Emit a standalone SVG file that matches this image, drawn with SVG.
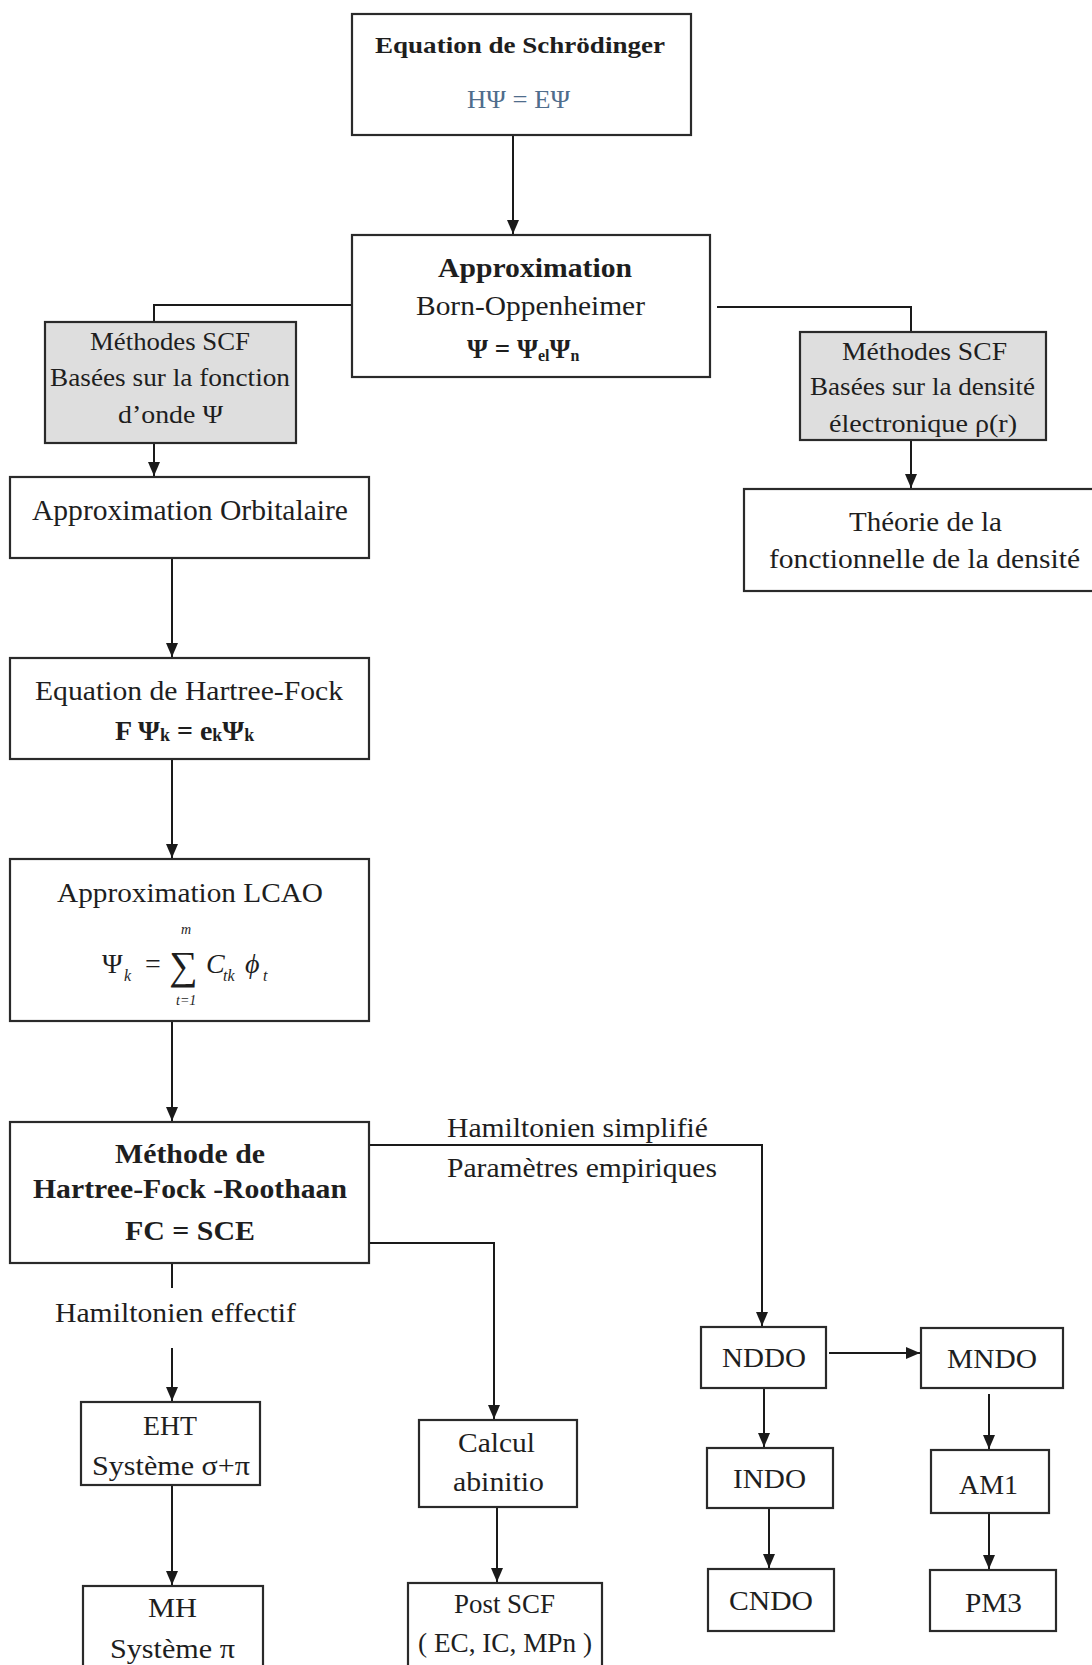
<svg xmlns="http://www.w3.org/2000/svg" width="1092" height="1665" viewBox="0 0 1092 1665" font-size="26">
<defs>
<marker id="ah" markerUnits="userSpaceOnUse" markerWidth="14" markerHeight="12" viewBox="0 0 14 12" refX="14" refY="6" orient="auto">
<path d="M0,0 L14,6 L0,12 Z" fill="#1a1a1a"/>
</marker>
</defs>
<style>
.box{fill:#ffffff;stroke:#2a2a2a;stroke-width:2.2}
.gray{fill:#dedede;stroke:#2a2a2a;stroke-width:2.2}
.c{fill:none;stroke:#1a1a1a;stroke-width:2}
text{font-family:"Liberation Serif","Times New Roman",serif;fill:#1e1e1e}
.b{font-weight:bold}
.it{font-style:italic}
</style>
<rect width="1092" height="1665" fill="#ffffff"/>

<g id="connectors">
<path class="c" d="M513,135 V234" marker-end="url(#ah)"/>
<path class="c" d="M352,305 H154 V322"/>
<path class="c" d="M717,307 H911 V332"/>
<path class="c" d="M911,440 V488" marker-end="url(#ah)"/>
<path class="c" d="M154,443 V476" marker-end="url(#ah)"/>
<path class="c" d="M172,558 V657" marker-end="url(#ah)"/>
<path class="c" d="M172,759 V858" marker-end="url(#ah)"/>
<path class="c" d="M172,1021 V1121" marker-end="url(#ah)"/>
<path class="c" d="M369,1145 H762 V1326" marker-end="url(#ah)"/>
<path class="c" d="M369,1243 H494 V1419" marker-end="url(#ah)"/>
<path class="c" d="M172,1263 V1288"/>
<path class="c" d="M172,1348 V1401" marker-end="url(#ah)"/>
<path class="c" d="M172,1485 V1585" marker-end="url(#ah)"/>
<path class="c" d="M497,1507 V1582" marker-end="url(#ah)"/>
<path class="c" d="M829,1353 H920" marker-end="url(#ah)"/>
<path class="c" d="M764,1388 V1447" marker-end="url(#ah)"/>
<path class="c" d="M769,1508 V1568" marker-end="url(#ah)"/>
<path class="c" d="M989,1394 V1449" marker-end="url(#ah)"/>
<path class="c" d="M989,1513 V1569" marker-end="url(#ah)"/>
</g>

<g id="schrodinger">
<rect class="box" x="352" y="14" width="339" height="121"/>
<text class="b" x="375" y="53" font-size="24" textLength="290" lengthAdjust="spacingAndGlyphs">Equation de Schrödinger</text>
<text x="467" y="108" font-size="26" style="fill:#4f6d8c" textLength="103" lengthAdjust="spacingAndGlyphs">HΨ = EΨ</text>
</g>

<g id="born-oppenheimer">
<rect class="box" x="352" y="235" width="358" height="142"/>
<text class="b" x="438" y="277" font-size="27" textLength="194" lengthAdjust="spacingAndGlyphs">Approximation</text>
<text x="416" y="315" font-size="27" textLength="229" lengthAdjust="spacingAndGlyphs">Born-Oppenheimer</text>
<text class="b" x="467" y="358" font-size="27">Ψ = Ψ<tspan font-size="16" dy="3">el</tspan><tspan dy="-3">Ψ</tspan><tspan font-size="16" dy="3">n</tspan></text>
</g>

<g id="scf-onde">
<rect class="gray" x="45" y="322" width="251" height="121"/>
<text x="90" y="350" font-size="26" textLength="160" lengthAdjust="spacingAndGlyphs">Méthodes SCF</text>
<text x="50" y="386" font-size="26" textLength="240" lengthAdjust="spacingAndGlyphs">Basées sur la fonction</text>
<text x="118" y="423" font-size="26" textLength="105" lengthAdjust="spacingAndGlyphs">d’onde Ψ</text>
</g>

<g id="scf-densite">
<rect class="gray" x="800" y="332" width="246" height="108"/>
<text x="842" y="360" font-size="26" textLength="165" lengthAdjust="spacingAndGlyphs">Méthodes SCF</text>
<text x="810" y="395" font-size="26" textLength="225" lengthAdjust="spacingAndGlyphs">Basées sur la densité</text>
<text x="829" y="432" font-size="26" textLength="188" lengthAdjust="spacingAndGlyphs">électronique ρ(r)</text>
</g>

<g id="dft">
<rect class="box" x="744" y="489" width="360" height="102"/>
<text x="849" y="531" font-size="28" textLength="153" lengthAdjust="spacingAndGlyphs">Théorie de la</text>
<text x="769" y="568" font-size="28" textLength="311" lengthAdjust="spacingAndGlyphs">fonctionnelle de la densité</text>
</g>

<g id="orbitalaire">
<rect class="box" x="10" y="477" width="359" height="81"/>
<text x="32" y="520" font-size="29" textLength="316" lengthAdjust="spacingAndGlyphs">Approximation Orbitalaire</text>
</g>

<g id="hartree-fock">
<rect class="box" x="10" y="658" width="359" height="101"/>
<text x="35" y="700" font-size="28" textLength="308" lengthAdjust="spacingAndGlyphs">Equation de Hartree-Fock</text>
<text class="b" x="115" y="740" font-size="28">F Ψ<tspan font-size="18" dy="1">k</tspan><tspan dy="-1"> = e</tspan><tspan font-size="18" dy="1">k</tspan><tspan dy="-1">Ψ</tspan><tspan font-size="18" dy="1">k</tspan></text>
</g>

<g id="lcao">
<rect class="box" x="10" y="859" width="359" height="162"/>
<text x="57" y="902" font-size="28" textLength="266" lengthAdjust="spacingAndGlyphs">Approximation LCAO</text>
<text x="102" y="973" font-size="28">Ψ</text>
<text class="it" x="124" y="981" font-size="16">k</text>
<text x="145" y="973" font-size="28">=</text>
<text x="169" y="979" font-size="40">∑</text>
<text class="it" x="181" y="934" font-size="14">m</text>
<text class="it" x="176" y="1005" font-size="14">t=1</text>
<text class="it" x="206" y="973" font-size="28">C</text>
<text class="it" x="223" y="981" font-size="16">tk</text>
<text class="it" x="245" y="973" font-size="28">ϕ</text>
<text class="it" x="263" y="981" font-size="16">t</text>
</g>

<g id="roothaan">
<rect class="box" x="10" y="1122" width="359" height="141"/>
<text class="b" x="115" y="1163" font-size="28" textLength="150" lengthAdjust="spacingAndGlyphs">Méthode de</text>
<text class="b" x="33" y="1198" font-size="28" textLength="314" lengthAdjust="spacingAndGlyphs">Hartree-Fock -Roothaan</text>
<text class="b" x="125" y="1240" font-size="28" textLength="130" lengthAdjust="spacingAndGlyphs">FC = SCE</text>
</g>

<g id="labels">
<text x="447" y="1137" font-size="28" textLength="261" lengthAdjust="spacingAndGlyphs">Hamiltonien simplifié</text>
<text x="447" y="1177" font-size="28" textLength="270" lengthAdjust="spacingAndGlyphs">Paramètres empiriques</text>
<text x="55" y="1322" font-size="28" textLength="241" lengthAdjust="spacingAndGlyphs">Hamiltonien effectif</text>
</g>

<g id="eht">
<rect class="box" x="81" y="1402" width="179" height="83"/>
<text x="143" y="1435" font-size="27" textLength="54" lengthAdjust="spacingAndGlyphs">EHT</text>
<text x="92" y="1475" font-size="27" textLength="158" lengthAdjust="spacingAndGlyphs">Système σ+π</text>
</g>

<g id="mh">
<rect class="box" x="83" y="1586" width="180" height="100"/>
<text x="148" y="1617" font-size="27" textLength="49" lengthAdjust="spacingAndGlyphs">MH</text>
<text x="110" y="1658" font-size="27" textLength="125" lengthAdjust="spacingAndGlyphs">Système π</text>
</g>

<g id="abinitio">
<rect class="box" x="419" y="1420" width="158" height="87"/>
<text x="458" y="1452" font-size="27" textLength="77" lengthAdjust="spacingAndGlyphs">Calcul</text>
<text x="453" y="1491" font-size="27" textLength="91" lengthAdjust="spacingAndGlyphs">abinitio</text>
</g>

<g id="postscf">
<rect class="box" x="408" y="1583" width="194" height="100"/>
<text x="454" y="1613" font-size="27" textLength="101" lengthAdjust="spacingAndGlyphs">Post SCF</text>
<text x="418" y="1652" font-size="27" textLength="174" lengthAdjust="spacingAndGlyphs">( EC, IC, MPn )</text>
</g>

<g id="nddo">
<rect class="box" x="701" y="1327" width="125" height="61"/>
<text x="722" y="1367" font-size="28" textLength="84" lengthAdjust="spacingAndGlyphs">NDDO</text>
</g>
<g id="mndo">
<rect class="box" x="921" y="1328" width="142" height="60"/>
<text x="947" y="1368" font-size="28" textLength="90" lengthAdjust="spacingAndGlyphs">MNDO</text>
</g>
<g id="indo">
<rect class="box" x="707" y="1448" width="126" height="60"/>
<text x="733" y="1488" font-size="28" textLength="73" lengthAdjust="spacingAndGlyphs">INDO</text>
</g>
<g id="am1">
<rect class="box" x="931" y="1450" width="118" height="63"/>
<text x="959" y="1494" font-size="28" textLength="59" lengthAdjust="spacingAndGlyphs">AM1</text>
</g>
<g id="cndo">
<rect class="box" x="708" y="1569" width="126" height="62"/>
<text x="729" y="1610" font-size="28" textLength="84" lengthAdjust="spacingAndGlyphs">CNDO</text>
</g>
<g id="pm3">
<rect class="box" x="930" y="1570" width="126" height="61"/>
<text x="965" y="1612" font-size="28" textLength="57" lengthAdjust="spacingAndGlyphs">PM3</text>
</g>
</svg>
